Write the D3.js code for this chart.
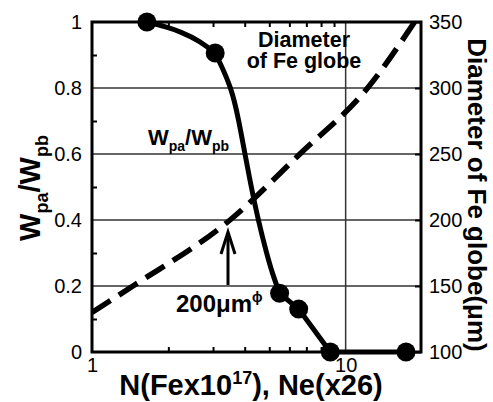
<!DOCTYPE html>
<html>
<head>
<meta charset="utf-8">
<script src="https://cdn.jsdelivr.net/npm/d3@7"></script>
<style>
  body { margin: 0; background: #fff; }
  text { font-family: "Liberation Sans", Arial, Helvetica, sans-serif; }
</style>
</head>
<body>
<div id="chart"></div>
<script>
// measured points (N, Wpa/Wpb)
const markerN = [1.646, 3.06, 5.49, 6.53, 8.7, 17.3];
const markerW = [1.0, 0.906, 0.178, 0.13, 0, 0];

// fitted solid curve: smooth part, then straight tail
const smoothN = [1.646, 1.944, 2.229, 2.675, 3.06, 3.158, 3.55, 3.789, 4.002, 4.242, 4.521, 4.876, 5.135, 5.49];
const smoothW = [1.0, 0.986, 0.971, 0.942, 0.906, 0.885, 0.8, 0.703, 0.603, 0.501, 0.4, 0.3, 0.239, 0.178];
const tailN = [5.49, 6.53, 8.7, 17.3];
const tailW = [0.178, 0.13, 0, 0];

// dashed: diameter of Fe globe (um)
const diamN = [1, 1.45, 3.5, 6.6, 12.2, 18.7];
const diamD = [130, 150, 200, 250, 300, 350];

const leftTicks = [0, 0.2, 0.4, 0.6, 0.8, 1];
const leftMinor = [0.1, 0.3, 0.5, 0.7, 0.9];
const rightTicks = [100, 150, 200, 250, 300, 350];
const xTicks = [1, 10];
const xMinor = [2, 3, 4, 5, 6, 7, 8, 9];

const W = 493, H = 402;
const M = {left: 92, right: 421, top: 22, bottom: 352};

const svg = d3.select("#chart").append("svg")
    .attr("width", W)
    .attr("height", H);

const x = d3.scaleLog().domain([1, 20]).range([M.left, M.right + 1]);
const y = d3.scaleLinear().domain([0, 1]).range([M.bottom, M.top]);
const yR = d3.scaleLinear().domain([100, 350]).range([M.bottom, M.top]);

// grid lines
svg.append("g")
    .selectAll("line")
    .data([0.2, 0.4, 0.6, 0.8])
    .enter().append("line")
    .attr("x1", M.left).attr("x2", M.right)
    .attr("y1", d => y(d)).attr("y2", d => y(d))
    .attr("stroke", "#333").attr("stroke-width", 1.5);

svg.append("line")
    .attr("x1", x(10)).attr("x2", x(10))
    .attr("y1", M.top).attr("y2", M.bottom)
    .attr("stroke", "#333").attr("stroke-width", 1.5);

// axes
function styleAxis(g, size) {
    g.select(".domain").remove();
    g.selectAll(".tick line").attr("stroke", "#000").attr("stroke-width", 2);
    g.selectAll(".tick text").attr("font-size", size).attr("fill", "#000")
        .style("font-family", "'Liberation Sans', Arial, sans-serif");
}

svg.append("g")
    .attr("transform", `translate(${M.left},0)`)
    .call(d3.axisLeft(y).tickValues(leftTicks).tickSize(0).tickPadding(10)
        .tickFormat(d3.format("")))
    .call(g => styleAxis(g, 20));

svg.append("g")
    .attr("transform", `translate(${M.left},0)`)
    .call(d3.axisLeft(y).tickValues(leftMinor).tickSize(-5).tickFormat(""))
    .call(g => styleAxis(g, 20));

svg.append("g")
    .attr("transform", `translate(${M.right},0)`)
    .call(d3.axisRight(yR).tickValues(rightTicks).tickSize(-6).tickPadding(8))
    .call(g => styleAxis(g, 20));

svg.append("g")
    .attr("transform", `translate(0,${M.bottom})`)
    .call(d3.axisBottom(x).tickValues(xTicks).tickSize(0).tickPadding(6)
        .tickFormat(d3.format("")))
    .call(g => styleAxis(g, 20));

svg.append("g")
    .attr("transform", `translate(0,${M.bottom})`)
    .call(d3.axisBottom(x).tickValues(xMinor).tickSize(-5).tickFormat(""))
    .call(g => styleAxis(g, 20));

svg.append("g")
    .attr("transform", `translate(0,${M.top})`)
    .call(d3.axisTop(x).tickValues(xMinor).tickSize(-5).tickFormat(""))
    .call(g => styleAxis(g, 20));

// frame
svg.append("rect")
    .attr("x", M.left).attr("y", M.top)
    .attr("width", M.right - M.left).attr("height", M.bottom - M.top)
    .attr("fill", "none").attr("stroke", "#000").attr("stroke-width", 3);

// clip for the dashed line
svg.append("clipPath").attr("id", "plotclip")
    .append("rect")
    .attr("x", M.left).attr("y", M.top)
    .attr("width", M.right - M.left).attr("height", M.bottom - M.top);

// dashed diameter line
const diamData = diamN.map((n, i) => ({n: n, d: diamD[i]}));
svg.append("path")
    .datum(diamData)
    .attr("clip-path", "url(#plotclip)")
    .attr("fill", "none")
    .attr("stroke", "#000")
    .attr("stroke-width", 5.5)
    .attr("stroke-dasharray", "22,10")
    .attr("d", d3.line().x(d => x(d.n)).y(d => yR(d.d)).curve(d3.curveMonotoneX));

// solid curve
const smoothData = smoothN.map((n, i) => ({n: n, w: smoothW[i]}));
const tailData = tailN.map((n, i) => ({n: n, w: tailW[i]}));
svg.append("path")
    .datum(smoothData)
    .attr("fill", "none")
    .attr("stroke", "#000")
    .attr("stroke-width", 5)
    .attr("d", d3.line().x(d => x(d.n)).y(d => y(d.w)).curve(d3.curveBasis));
svg.append("path")
    .datum(tailData)
    .attr("fill", "none")
    .attr("stroke", "#000")
    .attr("stroke-width", 5)
    .attr("stroke-linejoin", "round")
    .attr("d", d3.line().x(d => x(d.n)).y(d => y(d.w)));

// markers
svg.selectAll(".dot")
    .data(markerN.map((n, i) => ({n: n, w: markerW[i]})))
    .enter().append("circle")
    .classed("dot", true)
    .attr("cx", d => x(d.n))
    .attr("cy", d => y(d.w))
    .attr("r", 9.5)
    .attr("fill", "#000");

// arrow pointing at 200um
const ax = 228;
svg.append("line")
    .attr("x1", ax).attr("x2", ax)
    .attr("y1", 285).attr("y2", 233)
    .attr("stroke", "#000").attr("stroke-width", 3);
svg.append("path")
    .attr("d", `M${ax - 7},${254} L${ax},${232} L${ax + 7},${254}`)
    .attr("fill", "none").attr("stroke", "#000").attr("stroke-width", 3);

// annotations
const ann = svg.append("text")
    .attr("x", 176).attr("y", 312)
    .attr("font-size", 24).attr("font-weight", "bold");
ann.append("tspan").text("200μm");
ann.append("tspan").attr("font-size", 14).attr("dy", -10).text("ϕ");

svg.append("text")
    .attr("x", 304).attr("y", 47)
    .attr("text-anchor", "middle")
    .attr("font-size", 21.5).attr("font-weight", "bold")
    .text("Diameter");
svg.append("text")
    .attr("x", 304).attr("y", 68)
    .attr("text-anchor", "middle")
    .attr("font-size", 21.5).attr("font-weight", "bold")
    .text("of Fe globe");

const wlab = svg.append("text")
    .attr("x", 148).attr("y", 145)
    .attr("font-size", 22).attr("font-weight", "bold");
wlab.append("tspan").text("W");
wlab.append("tspan").attr("font-size", 14).attr("dy", 6).text("pa");
wlab.append("tspan").attr("dy", -6).text("/W");
wlab.append("tspan").attr("font-size", 14).attr("dy", 6).text("pb");

// axis titles
const yl = svg.append("text")
    .attr("transform", "translate(40,188) rotate(-90)")
    .attr("text-anchor", "middle")
    .attr("font-size", 29).attr("font-weight", "bold");
yl.append("tspan").text("W");
yl.append("tspan").attr("font-size", 18).attr("dy", 8).text("pa");
yl.append("tspan").attr("dy", -8).text("/W");
yl.append("tspan").attr("font-size", 18).attr("dy", 8).text("pb");

svg.append("text")
    .attr("transform", "translate(468,195) rotate(90)")
    .attr("text-anchor", "middle")
    .attr("font-size", 26).attr("font-weight", "bold")
    .text("Diameter of Fe globe(μm)");

const xl = svg.append("text")
    .attr("x", 251).attr("y", 395)
    .attr("text-anchor", "middle")
    .attr("font-size", 29).attr("font-weight", "bold");
xl.append("tspan").text("N(Fex10");
xl.append("tspan").attr("font-size", 18).attr("dy", -11).text("17");
xl.append("tspan").attr("dy", 11).text("), Ne(x26)");
</script>
</body>
</html>
